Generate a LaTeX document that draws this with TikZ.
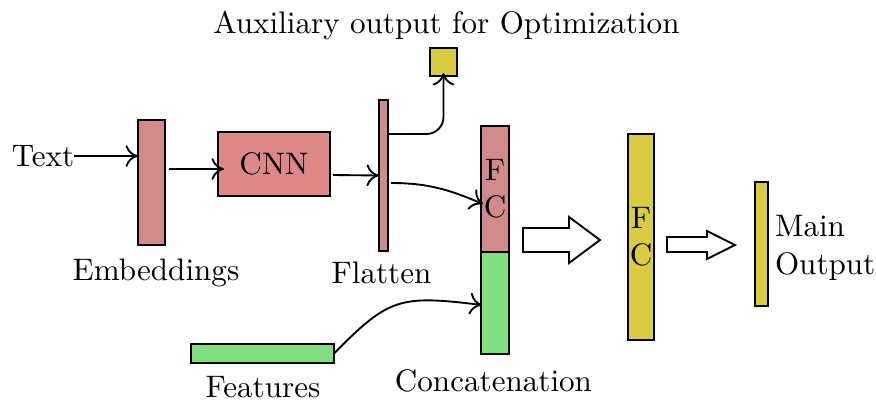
\documentclass[tikz,border=0pt]{standalone}
\usetikzlibrary{arrows.meta,calc}
\newdimen\pxu \pxu=0.3214pt
\definecolor{cred}{RGB}{210,137,137}
\definecolor{cnnred}{RGB}{220,136,136}
\definecolor{cgreen}{RGB}{128,223,128}
\definecolor{cyellow}{RGB}{217,204,64}
\begin{document}
\begin{tikzpicture}[x=0.3214pt,y=-0.3214pt,
  blk/.style={draw=black,line width=0.6pt,inner sep=0pt,outer sep=0pt},
  lbl/.style={inner sep=0pt,outer sep=0pt},
  arr/.style={line width=0.6pt,-{To[length=4pt,width=7pt,line width=0.6pt]}},
  barrow/.style={draw=black,fill=white,line width=0.6pt}]
\useasboundingbox (0,0) rectangle (876,400);
% blocks
\node[blk,fill=cred,minimum width=27\pxu,minimum height=125\pxu] (emb) at (151.5,182.5) {};
\node[blk,fill=cnnred,minimum width=112\pxu,minimum height=64\pxu] (cnn) at (274,164) {CNN};
\node[blk,fill=cred,minimum width=9\pxu,minimum height=151\pxu] (flat) at (383.5,175.5) {};
\node[blk,fill=cyellow,minimum width=27\pxu,minimum height=28\pxu] (aux) at (443.5,62) {};
\node[blk,fill=cred,minimum width=28\pxu,minimum height=126\pxu,align=center] (fca) at (495,189) {F\\C};
\node[blk,fill=cgreen,minimum width=28\pxu,minimum height=102\pxu] (grn) at (495,303) {};
\node[blk,fill=cgreen,minimum width=143\pxu,minimum height=19\pxu] (feat) at (262.5,353.5) {};
\node[blk,fill=cyellow,minimum width=26\pxu,minimum height=206\pxu,align=center] (fcb) at (641,237) {F\\C};
\node[blk,fill=cyellow,minimum width=13\pxu,minimum height=124\pxu] (mout) at (761.5,244) {};
% labels
\node[lbl,anchor=west] (text) at (12,156) {Text};
\node[lbl,anchor=base] (lemb) at (156,280) {Embeddings};
\node[lbl,anchor=base] (lflat) at (381.5,283) {Flatten};
\node[lbl,anchor=base] (laux) at (446.5,33) {Auxiliary output for Optimization};
\node[lbl,anchor=base] (lcat) at (493.5,391) {Concatenation};
\node[lbl,anchor=base] (lfeat) at (263,397) {Features};
\node[lbl,anchor=base west,align=left] (lmain) at (775,274) {Main\\Output};
% connectors
\draw[arr] (text.east) -- (text.east -| emb.west);
\draw[arr] ([xshift=4\pxu,yshift=13.5\pxu]emb.east) -- ([xshift=6\pxu,yshift=-5\pxu]cnn.west);
\draw[arr] ([xshift=3\pxu,yshift=-11\pxu]cnn.east) -- (flat.west);
\draw[arr,rounded corners=17\pxu] ([yshift=41.5\pxu]flat.east) -| ([yshift=3\pxu]aux.south);
\draw[arr] ([xshift=3\pxu,yshift=-7.5\pxu]flat.east) to[out=0,in=157] ([xshift=2\pxu,yshift=-15\pxu]fca.west);
\draw[arr] (feat.east) .. controls +(55,-56) and +(-82,-10) .. ([xshift=1\pxu,yshift=-2\pxu]grn.west);
% block arrows
\draw[barrow] (523,228) -- (569,228) -- (569,217) -- (600,240) -- (569,263) -- (569,252) -- (523,252) -- cycle;
\draw[barrow] (667,237) -- (707,237) -- (707,231) -- (735,245) -- (707,259) -- (707,252) -- (667,252) -- cycle;
\end{tikzpicture}
\end{document}
